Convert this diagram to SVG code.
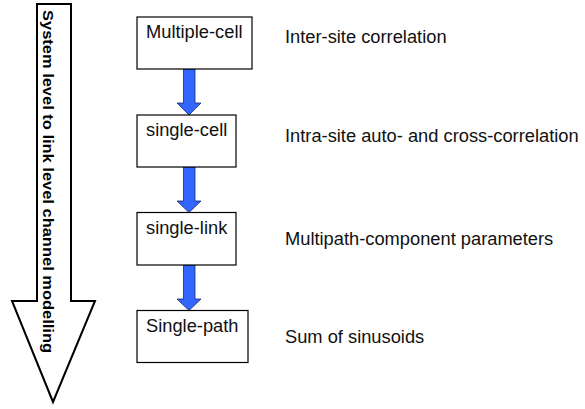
<svg xmlns="http://www.w3.org/2000/svg" width="585" height="409" viewBox="0 0 585 409">
<style>
.box{fill:#fff;stroke:#000;stroke-width:1.2}
.lbl{font-family:"Liberation Sans",Arial,sans-serif;font-size:18.3px;fill:#111}
.blue{fill:#3366ff;stroke:#1a2a66;stroke-width:0.8}
.big{fill:#fff;stroke:#000;stroke-width:2}
.bigt{font-family:"Liberation Sans",Arial,sans-serif;font-size:14.5px;font-weight:bold;fill:#000}
</style>
<rect width="585" height="409" fill="#fff"/>
<g id="sysarrow">
<polygon class="big" points="37,4 71,4 71,301 95,301 53,402 12,301 37,301"/>
<text class="bigt" transform="translate(43,10) rotate(90)" textLength="343" lengthAdjust="spacingAndGlyphs">System level to link level channel modelling</text>
</g>
<g id="connectors">
<polygon class="blue" points="183.5,69 195,69 195,103 201,103 189,115 177,103 183.5,103"/>
<polygon class="blue" points="183.5,167 195,167 195,201 201,201 189,212.5 177,201 183.5,201"/>
<polygon class="blue" points="183.5,265 195,265 195,299 201,299 189,310.5 177,299 183.5,299"/>
</g>
<g id="n1">
<rect class="box" x="137" y="17" width="115" height="52"/>
<text class="lbl" x="146" y="38">Multiple-cell</text>
</g>
<g id="n2">
<rect class="box" x="137" y="115" width="99" height="52"/>
<text class="lbl" x="146" y="136">single-cell</text>
</g>
<g id="n3">
<rect class="box" x="137" y="212.5" width="99" height="52.5"/>
<text class="lbl" x="146" y="233.5">single-link</text>
</g>
<g id="n4">
<rect class="box" x="137" y="310.5" width="111" height="52"/>
<text class="lbl" x="146" y="332">Single-path</text>
</g>
<g id="l1"><text class="lbl" x="285" y="43.3">Inter-site correlation</text></g>
<g id="l2"><text class="lbl" x="285" y="141.7">Intra-site auto- and cross-correlation</text></g>
<g id="l3"><text class="lbl" x="285" y="245">Multipath-component parameters</text></g>
<g id="l4"><text class="lbl" x="285" y="342.7">Sum of sinusoids</text></g>
</svg>
